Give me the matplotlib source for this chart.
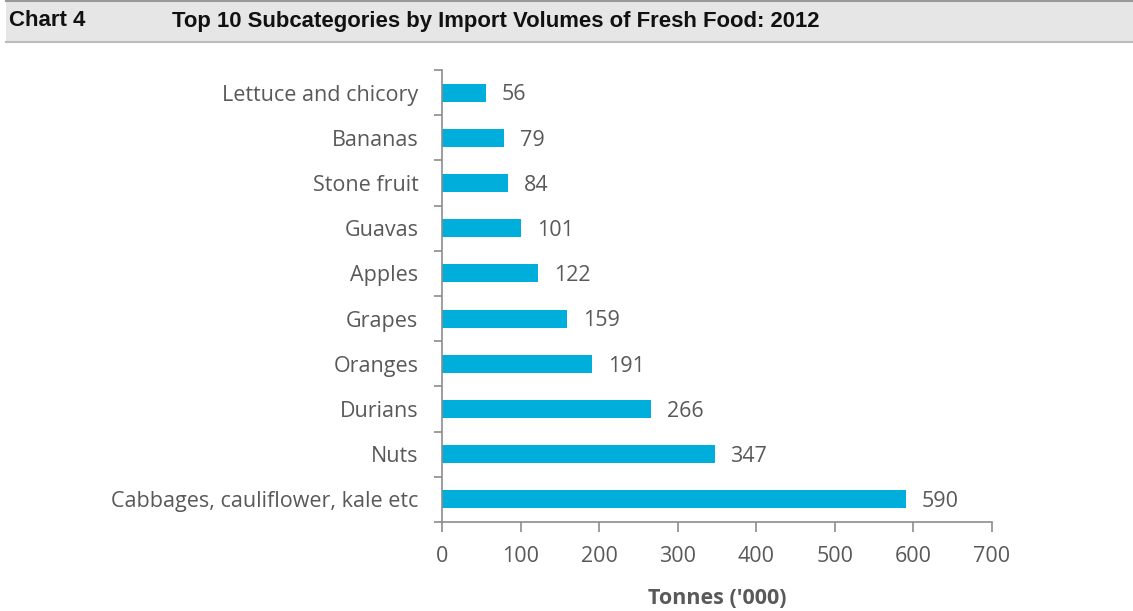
import matplotlib.pyplot as plt
from matplotlib.patches import Rectangle
from matplotlib.lines import Line2D
import numpy as np

# Import volumes, thousand tonnes (top to bottom as listed)
categories = ["Lettuce and chicory", "Bananas", "Stone fruit", "Guavas", "Apples",
              "Grapes", "Oranges", "Durians", "Nuts", "Cabbages, cauliflower, kale etc"]
volumes = [56, 79, 84, 101, 122, 159, 191, 266, 347, 590]
x_ticks = [0, 100, 200, 300, 400, 500, 600, 700]

BAR_COLOR = "#00AEDB"
TEXT_COLOR = "#595959"
AXIS_COLOR = "#8c8c8c"
W, H = 1133, 611
FS = 15.5

plt.rcParams['font.family'] = ['Open Sans', 'DejaVu Sans']

fig = plt.figure(figsize=(W / 100, H / 100), dpi=100)

# header band
fig.patches.append(Rectangle((6 / W, 1 - 41 / H), 1 - 6 / W, 41 / H, transform=fig.transFigure,
                             facecolor="#e6e6e6", edgecolor="none", zorder=0))
fig.lines.append(Line2D([6 / W, 1], [1 - 1 / H, 1 - 1 / H], transform=fig.transFigure,
                        color="#999999", linewidth=1.5))
fig.lines.append(Line2D([6 / W, 1], [1 - 41.5 / H, 1 - 41.5 / H], transform=fig.transFigure,
                        color="#bbbbbb", linewidth=1.5))
fig.text(9 / W, 1 - 21 / H, "Chart 4", family="Liberation Sans", weight="bold",
         fontsize=16, va="center", ha="left", color="#111111")
fig.text(172 / W, 1 - 21 / H, "Top 10 Subcategories by Import Volumes of Fresh Food: 2012",
         family="Liberation Sans", weight="bold", fontsize=15.9, va="center", ha="left",
         color="#111111")

ax = fig.add_axes([442 / W, 1 - 522 / H, 550 / W, 452 / H])
y = np.arange(len(categories))
ax.barh(y, volumes, height=0.4, color=BAR_COLOR)
ax.set_ylim(len(categories) - 0.5, -0.5)
ax.set_xlim(0, 700)

for yi, v in zip(y, volumes):
    ax.text(v + 20, yi + 0.05, str(v), va="center", ha="left", fontsize=FS, color=TEXT_COLOR)

ax.set_yticks(y)
ax.set_yticklabels(categories, fontsize=FS, color=TEXT_COLOR)
ax.set_yticks(np.arange(-0.5, len(categories), 1), minor=True)
ax.tick_params(axis="y", which="major", length=0, pad=17)
ax.tick_params(axis="y", which="minor", length=6, color=AXIS_COLOR, width=1.2)

ax.set_xticks(x_ticks)
ax.set_xticklabels([str(t) for t in x_ticks], fontsize=FS, color=TEXT_COLOR)
ax.tick_params(axis="x", length=7, color=AXIS_COLOR, width=1.2, pad=10.5)
ax.set_xlabel("Tonnes ('000)", fontsize=FS, weight="bold", color=TEXT_COLOR, labelpad=15)

for side in ["top", "right"]:
    ax.spines[side].set_visible(False)
for side in ["left", "bottom"]:
    ax.spines[side].set_color(AXIS_COLOR)
    ax.spines[side].set_linewidth(1.2)

fig.savefig("out.png", dpi=100)
